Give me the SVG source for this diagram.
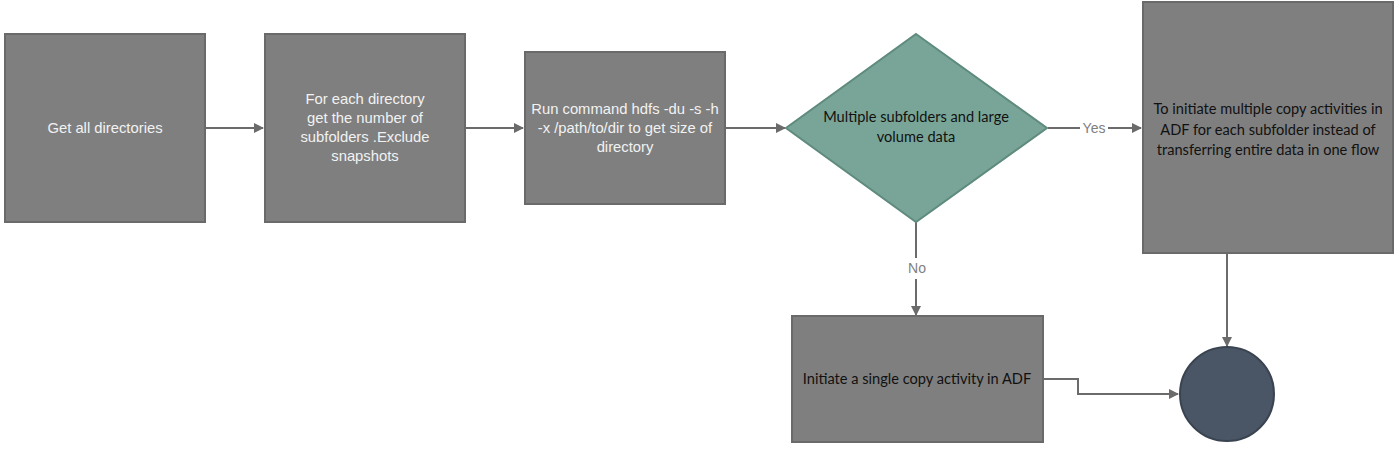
<svg xmlns="http://www.w3.org/2000/svg" width="1399" height="475" viewBox="0 0 1399 475">
<defs>
<style>
.box{fill:#7f7f7f;stroke:#6a6a6a;stroke-width:2}
.dia{fill:#79a598;stroke:#5e8b7d;stroke-width:2}
.end{fill:#4a5666;stroke:#3a4451;stroke-width:2}
.wt{font-family:"Liberation Sans",Arial,sans-serif;font-size:14.8px;fill:#f2f2f2;text-anchor:middle}
.bt{font-family:Lato,"Open Sans",sans-serif;font-size:14.6px;fill:#111;text-anchor:middle}
.lbl{font-family:"Liberation Sans",Arial,sans-serif;font-size:14px;fill:#808080;text-anchor:middle}
.con{fill:none;stroke:#6b6b6b;stroke-width:2}
</style>
<marker id="arr" markerWidth="10" markerHeight="10" refX="9" refY="5" orient="auto" markerUnits="userSpaceOnUse">
<path d="M0,0 L10,5 L0,10 Z" fill="#6b6b6b"/>
</marker>
</defs>
<rect width="1399" height="475" fill="#ffffff"/>
<g id="connectors">
<line class="con" x1="206" y1="128" x2="263" y2="128" marker-end="url(#arr)"/>
<line class="con" x1="466" y1="128" x2="523" y2="128" marker-end="url(#arr)"/>
<line class="con" x1="726" y1="128" x2="785" y2="128" marker-end="url(#arr)"/>
<line class="con" x1="1048" y1="128" x2="1080" y2="128"/>
<line class="con" x1="1108" y1="128" x2="1141" y2="128" marker-end="url(#arr)"/>
<line class="con" x1="916" y1="222" x2="916" y2="258"/>
<line class="con" x1="916" y1="279" x2="916" y2="315" marker-end="url(#arr)"/>
<polyline class="con" points="1043,379 1078,379 1078,394 1178,394" marker-end="url(#arr)"/>
<line class="con" x1="1227" y1="253" x2="1227" y2="346" marker-end="url(#arr)"/>
<text class="lbl" x="1094" y="133">Yes</text>
<text class="lbl" x="917" y="273">No</text>
</g>
<g id="n1">
<rect class="box" x="5" y="34" width="200" height="188"/>
<text class="wt" x="105" y="133">Get all directories</text>
</g>
<g id="n2">
<rect class="box" x="265" y="34" width="200" height="188"/>
<text class="wt" x="365" y="104">For each directory</text>
<text class="wt" x="365" y="123">get the number of</text>
<text class="wt" x="365" y="142">subfolders .Exclude</text>
<text class="wt" x="365" y="161">snapshots</text>
</g>
<g id="n3">
<rect class="box" x="525" y="52" width="200" height="152"/>
<text class="wt" x="625" y="114">Run command hdfs -du -s -h</text>
<text class="wt" x="625" y="133">-x /path/to/dir to get size of</text>
<text class="wt" x="625" y="152">directory</text>
</g>
<g id="n4">
<polygon class="dia" points="916,34 1047,128 916,222 786,128"/>
<text class="bt" x="916" y="122">Multiple subfolders and large</text>
<text class="bt" x="916" y="142">volume data</text>
</g>
<g id="n5">
<rect class="box" x="1143" y="2" width="250" height="251"/>
<text class="bt" x="1268" y="114">To initiate multiple copy activities in</text>
<text class="bt" x="1268" y="135">ADF for each subfolder instead of</text>
<text class="bt" x="1268" y="155">transferring entire data in one flow</text>
</g>
<g id="n6">
<rect class="box" x="792" y="316" width="251" height="126"/>
<text class="bt" x="917" y="384">Initiate a single copy activity in ADF</text>
</g>
<g id="n7">
<circle class="end" cx="1227" cy="394" r="47"/>
</g>
</svg>
